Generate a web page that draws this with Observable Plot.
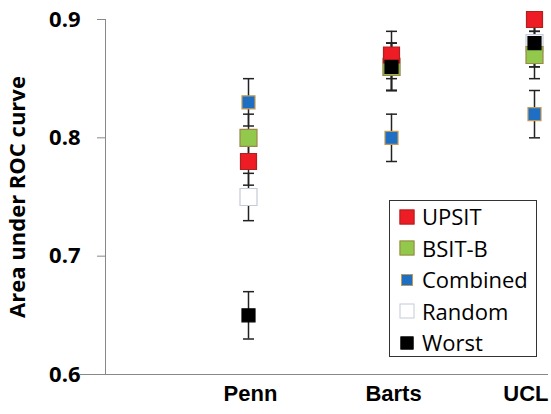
<!DOCTYPE html>
<html>
<head>
<meta charset="utf-8">
<script src="https://cdn.jsdelivr.net/npm/d3@7"></script>
<script src="https://cdn.jsdelivr.net/npm/@observablehq/plot@0.6"></script>
<style>
  html, body { margin: 0; padding: 0; background: #fff; }
  #wrap { position: relative; width: 551px; height: 414px; overflow: hidden; }
  #legend {
    position: absolute; left: 389px; top: 200px; width: 148px; height: 157px;
    box-sizing: border-box; border: 1.3px solid #333; background: #fff;
    font-family: "Open Sans", sans-serif; font-size: 22px; color: #000;
  }
  .item { position: relative; height: 31.5px; line-height: 31.5px; padding-left: 32px; white-space: nowrap; }
  .sw { position: absolute; box-sizing: border-box; top: 50%; transform: translate(-50%, -50%); left: 17px; }
</style>
</head>
<body>
<div id="wrap"></div>
<script>
// ---- data ----
const sites = ["Penn", "Barts", "UCL"];
const seriesNames = ["UPSIT", "BSIT-B", "Combined", "Random", "Worst"];
const yTicks = [0.6, 0.7, 0.8, 0.9];

const upsitAUC = [0.78, 0.87, 0.90];
const upsitLo  = [0.76, 0.85, 0.89];
const upsitHi  = [0.80, 0.89, 0.90];

const bsitAUC = [0.80, 0.86, 0.87];
const bsitLo  = [0.78, 0.84, 0.85];
const bsitHi  = [0.82, 0.88, 0.89];

const combinedAUC = [0.83, 0.80, 0.82];
const combinedLo  = [0.81, 0.78, 0.80];
const combinedHi  = [0.85, 0.82, 0.84];

const randomAUC = [0.75, 0.86, 0.88];
const randomLo  = [0.73, 0.84, 0.86];
const randomHi  = [0.77, 0.88, 0.90];

const worstAUC = [0.65, 0.86, 0.88];
const worstLo  = [0.63, 0.84, 0.86];
const worstHi  = [0.67, 0.88, 0.90];

// ---- styles ----
const styles = {
  "UPSIT":    {fill: "#ee1c24", stroke: "#b02020", side: 16, sw: 15},
  "BSIT-B":   {fill: "#92c84c", stroke: "#9a8848", side: 17, sw: 15},
  "Combined": {fill: "#1e6fc4", stroke: "#c09a5a", side: 13, sw: 12},
  "Random":   {fill: "#ffffff", stroke: "#c4ccd8", side: 17, sw: 15},
  "Worst":    {fill: "#000000", stroke: "#000000", side: 13, sw: 13}
};

const valueSets = {
  "UPSIT": [upsitAUC, upsitLo, upsitHi],
  "BSIT-B": [bsitAUC, bsitLo, bsitHi],
  "Combined": [combinedAUC, combinedLo, combinedHi],
  "Random": [randomAUC, randomLo, randomHi],
  "Worst": [worstAUC, worstLo, worstHi]
};

const rows = [];
for (const s of seriesNames) {
  const [auc, lo, hi] = valueSets[s];
  sites.forEach((site, i) => rows.push({series: s, site, auc: auc[i], lo: lo[i], hi: hi[i]}));
}

const cap = {draw(ctx) { ctx.moveTo(-5.5, 0); ctx.lineTo(5.5, 0); }};
const drawOrder = ["Random", "BSIT-B", "UPSIT", "Worst", "Combined"];
const fontUI = "'Open Sans', sans-serif";
const fontBold = "'Liberation Sans', Arial, sans-serif";

const markerMarks = drawOrder.map(s => Plot.dot(rows.filter(d => d.series === s), {
  x: "site", y: "auc", symbol: "square",
  r: styles[s].side / Math.sqrt(Math.PI),
  fill: styles[s].fill, stroke: styles[s].stroke, strokeWidth: 1.2
}));

const chart = Plot.plot({
  width: 551,
  height: 414,
  marginLeft: 105,
  marginRight: 17,
  marginTop: 19,
  marginBottom: 40,
  style: {background: "#fff", overflow: "visible"},
  x: {type: "point", domain: ["", ...sites], padding: 0, axis: null},
  y: {domain: [0.6, 0.9], axis: null},
  marks: [
    Plot.axisY({
      ticks: yTicks, tickSize: 8, tickPadding: 17, tickFormat: d3.format(".1f"),
      stroke: "#888", fill: "#000", fontSize: 22, fontWeight: "bold", fontFamily: fontUI, label: null
    }),
    Plot.ruleX([""], {stroke: "#888", strokeWidth: 1}),
    Plot.ruleY([0.6], {stroke: "#888", strokeWidth: 1.2, insetLeft: -25, insetRight: -14}),
    Plot.text(["Area under ROC curve"], {
      frameAnchor: "left", textAnchor: "middle", rotate: -90, dx: -88, text: d => d,
      fontSize: 22, fontWeight: "bold", fontFamily: fontUI, fill: "#000"
    }),
    Plot.text(sites.slice(0, 2), {
      x: d => d, text: d => d, frameAnchor: "bottom", dy: 26, dx: 2,
      fontSize: 22, fontWeight: "bold", fontFamily: fontBold, fill: "#000"
    }),
    Plot.text(sites.slice(2), {
      x: d => d, text: d => d, frameAnchor: "bottom", dy: 26, dx: 14, textAnchor: "end",
      fontSize: 22, fontWeight: "bold", fontFamily: fontBold, fill: "#000"
    }),
    Plot.ruleX(rows, {x: "site", y1: "lo", y2: "hi", stroke: "#222", strokeWidth: 1.5}),
    Plot.dot(rows, {x: "site", y: "lo", symbol: cap, fill: "none", stroke: "#222", strokeWidth: 1.5}),
    Plot.dot(rows, {x: "site", y: "hi", symbol: cap, fill: "none", stroke: "#222", strokeWidth: 1.5}),
    ...markerMarks
  ]
});

const wrap = document.getElementById("wrap");
wrap.appendChild(chart);

const legend = document.createElement("div");
legend.id = "legend";
for (const s of seriesNames) {
  const st = styles[s];
  const item = document.createElement("div");
  item.className = "item";
  const sw = document.createElement("span");
  sw.className = "sw";
  sw.style.width = st.sw + "px";
  sw.style.height = st.sw + "px";
  sw.style.background = st.fill;
  sw.style.border = "1.2px solid " + st.stroke;
  item.appendChild(sw);
  item.appendChild(document.createTextNode(s));
  legend.appendChild(item);
}
wrap.appendChild(legend);
</script>
</body>
</html>
